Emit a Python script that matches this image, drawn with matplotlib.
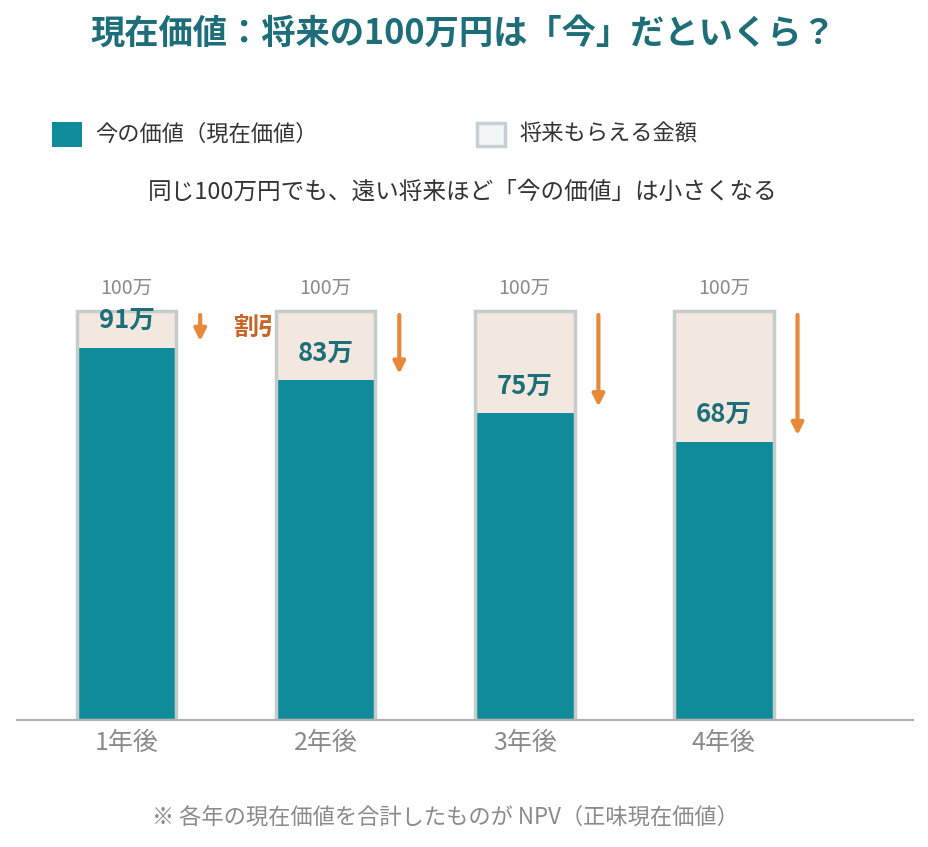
import matplotlib.pyplot as plt
from matplotlib.patches import Rectangle

plt.rcParams['font.family'] = ['Noto Sans CJK JP', 'DejaVu Sans']

years = ["1年後", "2年後", "3年後", "4年後"]
future_value = [100, 100, 100, 100]
present_value = [91, 83, 75, 68]
value_labels = ["91万", "83万", "75万", "68万"]

teal = "#0f8b9a"
dark_teal = "#1d6e78"
beige = "#f3e8e0"
border = "#c6cbcb"
orange = "#e8893a"
grey = "#8a8a8a"

fig = plt.figure(figsize=(9.29, 8.47), dpi=100)
ax = fig.add_axes([17 / 929, 0.15, (913 - 17) / 929, (720 - 270) / 847])

x = range(len(years))
w = 0.5
ax.bar(x, future_value, width=w, color=beige, edgecolor="none", zorder=1)
ax.bar(x, present_value, width=w, color=teal, edgecolor="none", zorder=2)
ax.bar(x, future_value, width=w, fill=False, edgecolor=border, linewidth=2.5, zorder=3)

for i, (fv, pv, lab) in enumerate(zip(future_value, present_value, value_labels)):
    ax.text(i, fv + 5.4, "100万", ha="center", va="center", fontsize=14, color=grey)
    ax.text(i, pv + 6.6, lab, ha="center", va="center", fontsize=18.5,
            fontweight="bold", color=dark_teal, zorder=4)
    ax.annotate("", xy=(i + 0.37, pv + 1.6), xytext=(i + 0.37, fv - 1.0),
                arrowprops=dict(arrowstyle="-|>,head_width=0.35,head_length=0.7",
                                color=orange, lw=3, shrinkA=0, shrinkB=0))

ax.text(0.535, 95.8, "割引", ha="left", va="center", fontsize=18,
        fontweight="bold", color="#c8662a", zorder=0.5)

ax.set_xlim(-0.55, 3.95)
ax.set_ylim(0, 110)
ax.set_xticks(list(x))
ax.set_xticklabels(years, fontsize=18, color=grey)
ax.tick_params(axis="x", length=0, pad=7)
ax.set_yticks([])
for s in ["top", "right", "left"]:
    ax.spines[s].set_visible(False)
ax.spines["bottom"].set_color("#b0b0b0")
ax.spines["bottom"].set_linewidth(1.5)
ax.spines["bottom"].set_zorder(5)

fig.text(463 / 929, 1 - 33 / 847, "現在価値：将来の100万円は「今」だといくら？",
         ha="center", va="center", fontsize=24.7, fontweight="bold", color=dark_teal)

# legend
fig.patches.append(Rectangle((52 / 929, 1 - 147 / 847), 30 / 929, 25 / 847,
                             transform=fig.transFigure, facecolor=teal, edgecolor="none"))
fig.text(95 / 929, 1 - 134 / 847, "今の価値（現在価値）", ha="left", va="center",
         fontsize=16, color="#333333")
fig.patches.append(Rectangle((477 / 929, 1 - 146 / 847), 28 / 929, 23 / 847,
                             transform=fig.transFigure, facecolor="#f3f6f7",
                             edgecolor="#c5d0d4", linewidth=2.5))
fig.text(519 / 929, 1 - 134 / 847, "将来もらえる金額", ha="left", va="center",
         fontsize=16, color="#333333")

fig.text(463 / 929, 1 - 192 / 847, "同じ100万円でも、遠い将来ほど「今の価値」は小さくなる",
         ha="center", va="center", fontsize=17, color="#333333")

fig.text(445 / 929, 1 - 817 / 847, "※ 各年の現在価値を合計したものが NPV（正味現在価値）",
         ha="center", va="center", fontsize=16, color=grey)

fig.savefig("out.png", dpi=100, facecolor="white")
